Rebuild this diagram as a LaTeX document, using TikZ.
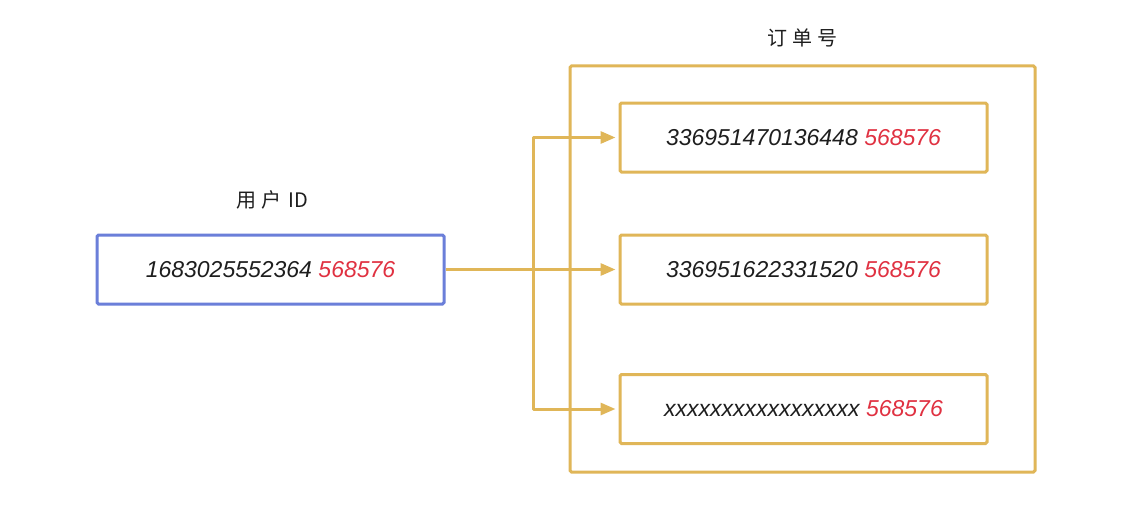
\documentclass[tikz,border=0pt]{standalone}
\usepackage{fontspec}
\setmainfont{Liberation Sans}
\newfontfamily\cjk{Noto Sans CJK SC}
\usetikzlibrary{arrows.meta}
\definecolor{boxblue}{HTML}{6B7FD9}
\definecolor{gold}{HTML}{E0B658}
\definecolor{numred}{HTML}{E03141}
\definecolor{ink}{HTML}{1E1E1E}
\begin{document}
\begin{tikzpicture}[x=1pt,y=-1pt,
  box/.style={draw, line width=3pt, rounded corners=1.5pt, minimum height=69pt, inner sep=0pt,
    font=\fontsize{23}{26}\selectfont\itshape, text=ink},
  bluebox/.style={box, draw=boxblue, minimum width=347pt},
  orderbox/.style={box, draw=gold, minimum width=367pt},
  outerbox/.style={draw=gold, line width=3pt, rounded corners=1.5pt, minimum width=465pt, minimum height=406pt},
  title/.style={font=\cjk\fontsize{20}{24}\selectfont, text=ink},
  link/.style={draw=gold, line width=3pt, line join=round},
  tip/.style={-{Triangle[length=15pt,width=12pt]}, shorten >=3pt}
]
\useasboundingbox (0,0) rectangle (1141,511);
\fill[white] (0,0) rectangle (1141,511);

\node[outerbox] (outer) at (802.5,269) {};
\node[title] (ot) at (802,38) {订\hspace{5pt}单\hspace{5pt}号};

\node[title] (ut) at (272,200) {用\hspace{5pt}户\hspace{7pt}ID};
\node[bluebox] (u) at (270.5,269.5) {1683025552364 \textcolor{numred}{568576}};

\node[orderbox] (o1) at (803.5,137.5) {336951470136448 \textcolor{numred}{568576}};
\node[orderbox] (o2) at (803.5,269.5) {336951622331520 \textcolor{numred}{568576}};
\node[orderbox] (o3) at (803.5,409) {xxxxxxxxxxxxxxxxx \textcolor{numred}{568576}};

\coordinate (j) at (533,269.5);
\draw[link,tip] (u.east) -- (o2.west);
\draw[link,tip] (j) |- (o1.west);
\draw[link,tip] (j) |- (o3.west);
\end{tikzpicture}
\end{document}
